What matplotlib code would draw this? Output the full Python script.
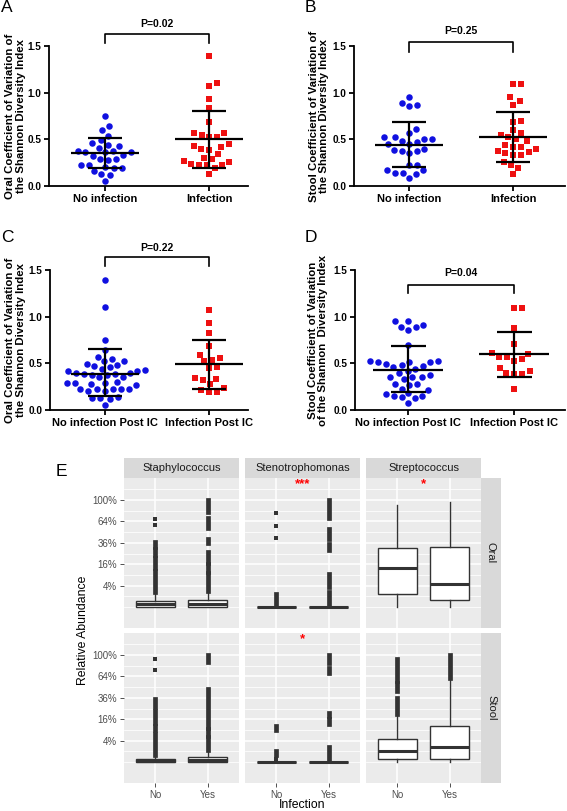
import numpy as np
import matplotlib
matplotlib.use('Agg')
import matplotlib.pyplot as plt

W, H = 567, 811
plt.rcParams['font.family'] = ['Liberation Sans', 'DejaVu Sans']

# ── A-D: 変動係数 (scatter dot plot) ────────────────────────────────────────
a_no = [0.75, 0.64, 0.60, 0.54, 0.49, 0.46, 0.43, 0.38, 0.41, 0.44, 0.36, 0.33,
        0.37, 0.36, 0.36, 0.32, 0.29, 0.28, 0.29, 0.23, 0.23, 0.20, 0.19, 0.19,
        0.125, 0.16, 0.12, 0.05]
a_inf = [1.39, 1.10, 1.07, 0.93, 0.84, 0.69, 0.57, 0.57, 0.55, 0.52, 0.52, 0.45,
         0.43, 0.40, 0.42, 0.39, 0.34, 0.30, 0.27, 0.29, 0.26, 0.22, 0.22, 0.22,
         0.24, 0.19, 0.13]
b_no = [0.95, 0.87, 0.86, 0.89, 0.61, 0.57, 0.525, 0.50, 0.48, 0.45, 0.45, 0.47,
        0.50, 0.52, 0.40, 0.38, 0.35, 0.37, 0.39, 0.23, 0.23, 0.17, 0.14, 0.17,
        0.125, 0.14, 0.085]
b_inf = [1.09, 1.09, 0.95, 0.91, 0.87, 0.70, 0.69, 0.60, 0.57, 0.55, 0.52, 0.48,
         0.50, 0.42, 0.42, 0.44, 0.38, 0.40, 0.35, 0.36, 0.33, 0.33, 0.26, 0.22,
         0.19, 0.125]
c_no = [1.39, 1.10, 0.75, 0.64, 0.57, 0.55, 0.52, 0.525, 0.48, 0.46, 0.47, 0.49,
        0.44, 0.42, 0.40, 0.385, 0.375, 0.385, 0.375, 0.40, 0.42, 0.43, 0.35, 0.35,
        0.29, 0.29, 0.27, 0.28, 0.30, 0.29, 0.225, 0.225, 0.20, 0.225, 0.20, 0.225,
        0.225, 0.125, 0.14, 0.12, 0.13, 0.055]
c_inf = [1.07, 0.93, 0.83, 0.69, 0.56, 0.52, 0.59, 0.54, 0.45, 0.46, 0.34, 0.32,
         0.33, 0.275, 0.21, 0.19, 0.19, 0.24]
d_no = [0.95, 0.89, 0.86, 0.89, 0.91, 0.95, 0.70, 0.51, 0.49, 0.47, 0.52, 0.48,
        0.51, 0.51, 0.52, 0.46, 0.42, 0.44, 0.40, 0.35, 0.35, 0.33, 0.375, 0.35,
        0.28, 0.28, 0.27, 0.23, 0.21, 0.185, 0.175, 0.15, 0.13, 0.135, 0.15, 0.08]
d_inf = [1.09, 1.09, 0.875, 0.71, 0.60, 0.57, 0.53, 0.55, 0.57, 0.61, 0.42, 0.39,
         0.385, 0.40, 0.45, 0.23]

# (mean, mean-SD, mean+SD)
a_bars = [(0.35, 0.19, 0.51), (0.50, 0.19, 0.80)]
b_bars = [(0.44, 0.20, 0.69), (0.52, 0.26, 0.79)]
c_bars = [(0.39, 0.15, 0.65), (0.49, 0.225, 0.75)]
d_bars = [(0.43, 0.19, 0.69), (0.60, 0.35, 0.84)]

p_texts = ['P=0.02', 'P=0.25', 'P=0.22', 'P=0.04']
cats_ab = ['No infection', 'Infection']
cats_cd = ['No infection Post IC', 'Infection Post IC']
ylab_oral = 'Oral Coefficient of Variation of\nthe Shannon Diversity Index'
ylab_stool = 'Stool Coefficient of Variation of\nthe Shannon Diversity Index'
ylab_stool_ic = 'Stool Coefficient of Variation\nof the Shannon  Diversity Index'

# ── E: 相対存在量 boxplot (値は %) ───────────────────────────────────────────
genera = ['Staphylococcus', 'Stenotrophomonas', 'Streptococcus']
sites = ['Oral', 'Stool']
groups = ['No', 'Yes']
# [site][genus][group]
box_q1 = [[[0, 0], [0, 0], [1.4, 0.4]],
          [[0, 0], [0, 0], [0.1, 0.1]]]
box_med = [[[0.06, 0.1], [0, 0], [13.3, 4.5]],
           [[0.01, 0.04], [0, 0], [1.0, 1.9]]]
box_q3 = [[[0.31, 0.44], [0, 0], [30.5, 31.5]],
          [[0.08, 0.22], [0, 0], [4.5, 11.5]]]
box_whi = [[[1.9, 2.2], [0, 0], [91, 96]],
           [[0.38, 1.2], [0, 0], [20, 61]]]
# 外れ値 (連続して重なっている範囲 lo-hi, 単独点は lo == hi)
outliers = [
    [[[(1.9, 11.6), (13, 21), (24, 29), (31, 37), (59, 59), (68, 68)],
      [(2.2, 10), (11, 16), (17, 26), (36, 40), (54, 70), (79, 100)]],
     [[(0.01, 1.5), (42, 42), (57, 57), (78, 78)],
      [(0.01, 2.0), (3.4, 9.7), (28, 35), (40, 53), (69, 100)]],
     [[], []]],
    [[[(0.38, 6.8), (9, 11.6), (13, 23), (26, 35), (74, 74), (93, 93)],
      [(1.2, 5.4), (6, 9.6), (10, 47), (88, 100)]],
     [[(0.1, 0.1), (0.4, 1.0), (8.7, 11.6)],
      [(0.01, 2.0), (12.5, 16), (18.5, 21), (70, 77), (85, 100)]],
     [[(20, 36), (44, 55), (58, 93)],
      [(61, 100)]]],
]
star_site = [0, 0, 1]
star_genus = [1, 2, 1]
star_text = ['***', '*', '*']
star_level = 132
tick_pct = [4, 16, 36, 64, 100]


def sq(p):
    return np.sqrt(np.asarray(p, dtype=float) / 100.0)


fig = plt.figure(figsize=(W / 100, H / 100), dpi=100)


def px_axes(l, t, r, b):
    return fig.add_axes([l / W, 1 - b / H, (r - l) / W, (b - t) / H])


def px_text(x, y, s, **kw):
    return fig.text(x / W, 1 - y / H, s, **kw)


def swarm_offsets(ax, ys, diam):
    """ピクセル空間での簡易 beeswarm (中心に近い位置から詰める)"""
    ys = np.asarray(ys, dtype=float)
    ypx = ax.transData.transform(np.column_stack([np.zeros(len(ys)), ys]))[:, 1]
    xunit = ax.transData.transform([(1, 0)])[0, 0] - ax.transData.transform([(0, 0)])[0, 0]
    placed, offs = [], np.zeros(len(ys))
    for i in np.argsort(ypx):
        y = ypx[i]
        cands = [0.0]
        for px, py in placed:
            dy = y - py
            if abs(dy) < diam:
                dx = np.sqrt(diam ** 2 - dy ** 2)
                cands += [px + dx, px - dx]
        cands.sort(key=abs)
        for c in cands:
            if all((c - px) ** 2 + (y - py) ** 2 >= diam ** 2 - 1e-6 for px, py in placed):
                break
        placed.append((c, y))
        offs[i] = c / xunit
    return offs


def dot_panel(box, xlim, vals, bars, cats, ylabel, ylab_x, ptxt, br):
    ax = px_axes(*box)
    ax.set_xlim(*xlim)
    ax.set_ylim(0, 1.5)
    for s in ['top', 'right']:
        ax.spines[s].set_visible(False)
    for s in ['left', 'bottom']:
        ax.spines[s].set_linewidth(1.3)
    ax.set_yticks([0, 0.5, 1.0, 1.5])
    ax.set_yticklabels(['0.0', '0.5', '1.0', '1.5'], fontsize=7.2, fontweight='bold')
    ax.set_xticks([0, 1])
    ax.set_xticklabels(cats, fontsize=8, fontweight='bold')
    ax.tick_params(width=1.3, length=3.5, pad=2)
    styles = [('o', '#1010e0', 22), ('s', '#ee1111', 20)]
    for i, (ys, (mk, col, sz)) in enumerate(zip(vals, styles)):
        off = swarm_offsets(ax, ys, 8.0)
        ax.scatter(i + off, ys, marker=mk, s=sz, color=col, lw=0,
                   zorder=2, clip_on=False)
    for i, (m, lo, hi) in enumerate(bars):
        ax.hlines(m, i - 0.33, i + 0.33, color='k', lw=1.6, zorder=3)
        ax.hlines([lo, hi], i - 0.165, i + 0.165, color='k', lw=1.6, zorder=3)
        ax.vlines(i, lo, hi, color='k', lw=1.6, zorder=3)
    leg, top, ty = br
    ax.plot([0, 0, 1, 1], [leg, top, top, leg], color='k', lw=1.2, clip_on=False)
    ax.text(0.5, ty, ptxt, ha='center', va='center', fontsize=7.5,
            fontweight='bold', clip_on=False)
    l, t, r, b = box
    px_text(ylab_x, (t + b) / 2, ylabel, rotation=90, ha='center', va='center',
            fontsize=8.2, fontweight='bold', linespacing=1.1, multialignment='center')
    return ax


dot_panel((49, 46, 248, 186), (-0.54, 1.375), [a_no, a_inf], a_bars, cats_ab,
          ylab_oral, 15.5, p_texts[0], (1.53, 1.63, 1.74))
dot_panel((354, 46, 565, 186), (-0.53, 1.5), [b_no, b_inf], b_bars, cats_ab,
          ylab_stool, 319, p_texts[1], (1.44, 1.54, 1.66))
dot_panel((50, 270, 248, 410), (-0.53, 1.375), [c_no, c_inf], c_bars, cats_cd,
          ylab_oral, 15.5, p_texts[2], (1.54, 1.64, 1.74))
dot_panel((355, 270, 565, 410), (-0.5, 1.48), [d_no, d_inf], d_bars, cats_cd,
          ylab_stool_ic, 318, p_texts[3], (1.25, 1.34, 1.47))

for letter, x, y in [('A', 1, 7), ('B', 305, 7), ('C', 1, 238), ('D', 305, 238), ('E', 56, 471)]:
    px_text(x, y, letter, fontsize=12.5, ha='left', va='center')

# ── E パネル ────────────────────────────────────────────────────────────────
col_l, col_r = [124, 245, 366], [239, 360, 481]
row_t, row_b = [478, 633], [628, 783]
dark = '#333333'

for r in range(2):
    for c in range(3):
        ax = px_axes(col_l[c], row_t[r], col_r[c], row_b[r])
        ax.set_facecolor('#EBEBEB')
        for s in ax.spines.values():
            s.set_visible(False)
        ax.set_axisbelow(True)
        st = []
        for g in range(2):
            st.append(dict(q1=sq(box_q1[r][c][g]), med=sq(box_med[r][c][g]),
                           q3=sq(box_q3[r][c][g]), whislo=0.0,
                           whishi=sq(box_whi[r][c][g]), fliers=[]))
        ax.bxp(st, positions=[1, 2], widths=0.75, showcaps=False, showfliers=False,
               patch_artist=True, manage_ticks=False,
               boxprops=dict(facecolor='white', edgecolor=dark, linewidth=1.0),
               medianprops=dict(color=dark, linewidth=2.2, solid_capstyle='butt'),
               whiskerprops=dict(color=dark, linewidth=1.0))
        for g in range(2):
            for lo, hi in outliers[r][c][g]:
                if lo == hi:
                    ax.plot([g + 1], [sq(lo)], 's', ms=3.4, color=dark, mew=0)
                else:
                    ax.plot([g + 1, g + 1], [sq(lo), sq(hi)], color=dark, lw=3.4,
                            solid_capstyle='projecting')
        for ss, gg, tx in zip(star_site, star_genus, star_text):
            if ss == r and gg == c:
                ax.text(1.5, sq(star_level), tx, color='red', ha='center',
                        va='center', fontsize=9.5, fontweight='bold')
        ax.set_xlim(0.4, 2.6)
        ax.set_ylim(-0.196, 1.206)
        ax.set_yticks(sq(tick_pct))
        ax.set_yticks([0.0, 0.1, 0.3, 0.5, 0.7, 0.9, 1.1], minor=True)
        ax.set_xticks([1, 2])
        ax.grid(which='major', color='white', lw=1.1)
        ax.grid(which='minor', axis='y', color='white', lw=0.55)
        ax.tick_params(which='minor', length=0)
        ax.tick_params(which='major', color=dark, length=2.8, width=0.6,
                       labelcolor='#4D4D4D', labelsize=7, pad=2)
        if c == 0:
            ax.set_yticklabels([f'{p}%' for p in tick_pct])
        else:
            ax.tick_params(axis='y', length=0, labelleft=False)
        if r == 1:
            ax.set_xticklabels(groups)
        else:
            ax.tick_params(axis='x', length=0, labelbottom=False)

    # 右側ストリップ
    sax = px_axes(481, row_t[r], 501, row_b[r])
    sax.set_facecolor('#D9D9D9')
    sax.set_xticks([]); sax.set_yticks([])
    for s in sax.spines.values():
        s.set_visible(False)
    sax.text(0.5, 0.5, sites[r], rotation=-90, ha='center', va='center',
             fontsize=8, color='#1A1A1A', transform=sax.transAxes)

for c in range(3):
    sax = px_axes(col_l[c], 458, col_r[c], 478)
    sax.set_facecolor('#D9D9D9')
    sax.set_xticks([]); sax.set_yticks([])
    for s in sax.spines.values():
        s.set_visible(False)
    sax.text(0.5, 0.5, genera[c], ha='center', va='center', fontsize=8,
             color='#1A1A1A', transform=sax.transAxes)

px_text(83, 630, 'Relative Abundance', rotation=90, ha='center', va='center', fontsize=8.8)
px_text(302, 805, 'Infection', ha='center', va='center', fontsize=8.8)

fig.savefig('out.png', dpi=100)
